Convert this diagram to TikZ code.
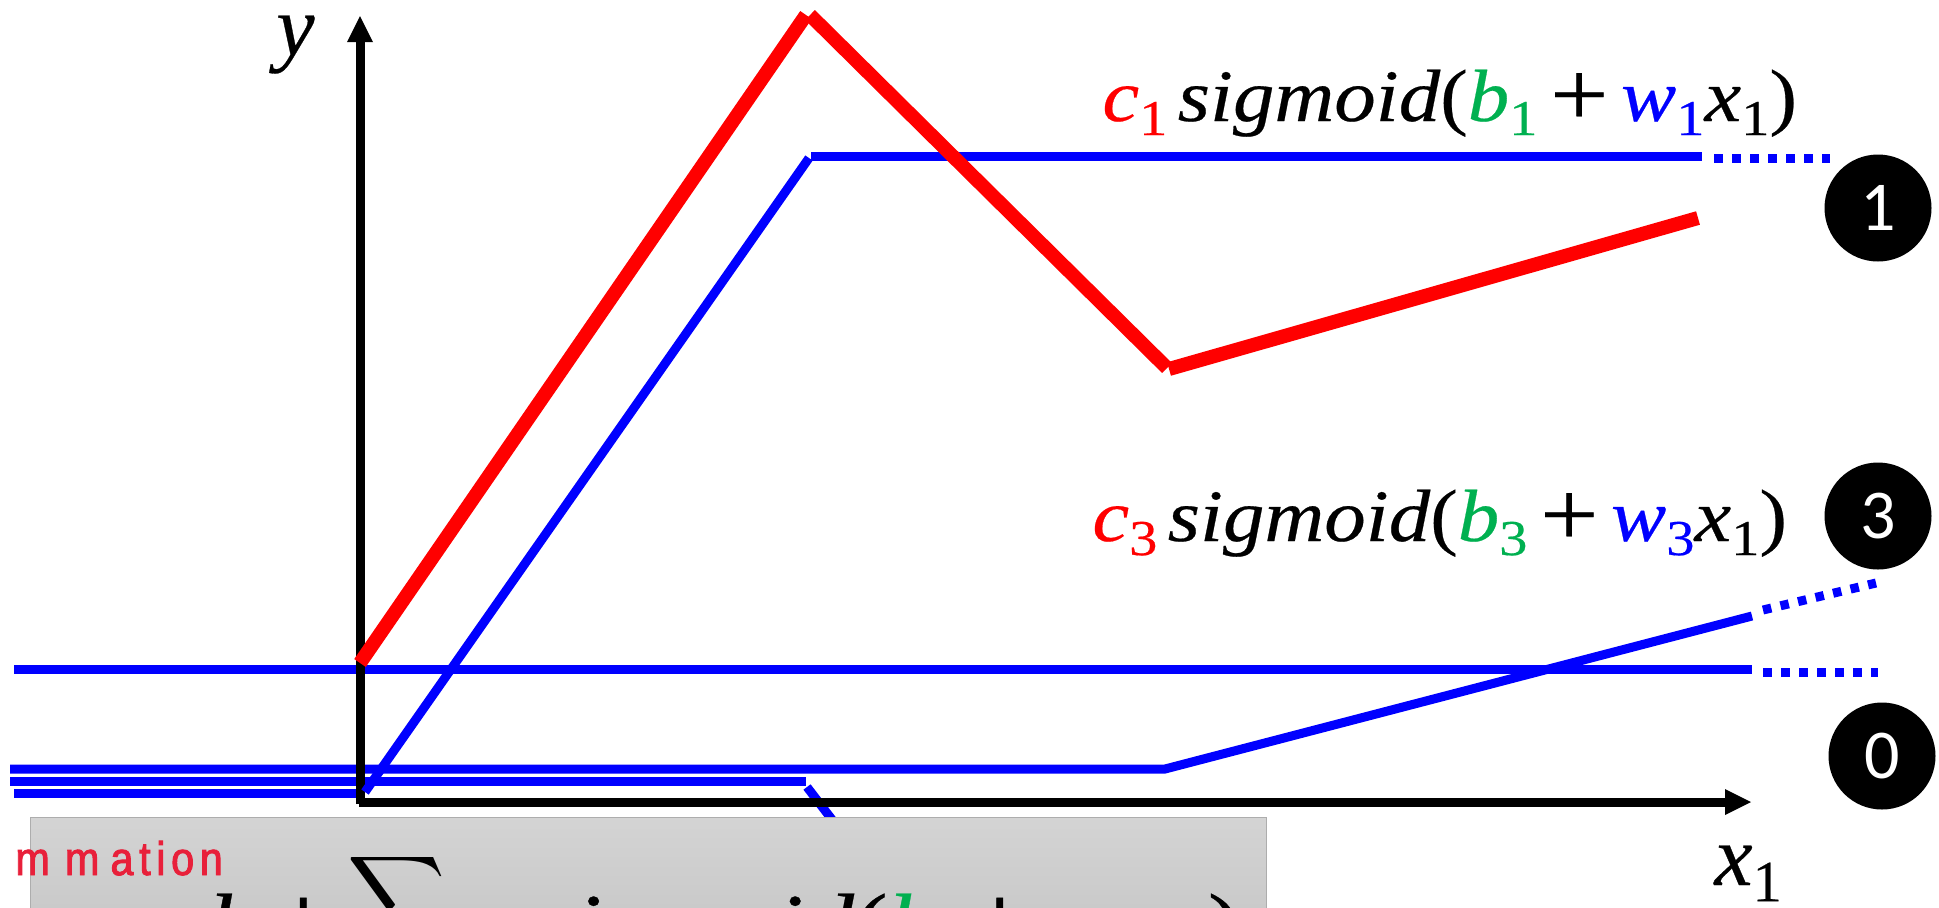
\documentclass[tikz,border=0pt]{standalone}
\usepackage{fontspec}
\newfontfamily\numfont{Carlito}
\newfontfamily\redfont[FakeStretch=0.88,LetterSpace=12,FakeBold=2]{Liberation Sans}
\newfontfamily\cam[FakeStretch=1.12,FakeBold=0.35]{Liberation Serif}
\newfontfamily\camx[FakeStretch=1.0,FakeBold=0.35]{Liberation Serif}
\definecolor{cblue}{RGB}{0,0,255}
\definecolor{cred}{RGB}{255,0,0}
\definecolor{cgreen}{RGB}{0,176,80}
\definecolor{labred}{RGB}{232,32,58}
\newcommand\csub[1]{\raisebox{-0.19em}{\scalebox{0.68}{\upshape #1}}}
\newcommand\cplus{\raisebox{-0.06em}{\scalebox{1.25}{\upshape+}}}
\newcommand\eqn[3]{{\cam\itshape\textcolor{cred}{c\csub{#1}}\hspace{0.14em}sigmoid{\upshape(}\textcolor{cgreen}{b\csub{#1}}\hspace{0.17em}\cplus\hspace{0.17em}\textcolor{#3}{w\csub{#1}}x\csub{#2}{\upshape)}}}
\tikzset{
  axisline/.style={draw=black,line width=4.5pt},
  blueline/.style={draw=cblue,line width=4.5pt},
  bluedot/.style={draw=cblue,line width=4.5pt,dash pattern=on 4.25pt off 4.75pt},
  redline/.style={draw=cred,line width=7pt},
  badge/.style={circle,fill=black,text=white,minimum size=53.5pt,inner sep=0pt,font=\numfont\fontsize{35}{35}\selectfont},
  mathlabel/.style={inner sep=0pt,anchor=base west,font=\fontsize{37}{44}\selectfont},
  axislabel/.style={inner sep=0pt,anchor=base west,font=\fontsize{43}{50}\selectfont},
  sumlabel/.style={inner sep=0pt,anchor=base west,font=\fontsize{45}{54}\selectfont},
  sumbox/.style={rectangle,draw=black!32,line width=0.7pt,top color=black!17,bottom color=black!22,minimum width=618pt,minimum height=60pt,anchor=north west,inner sep=0pt},
  tip/.style={fill=black,draw=none},
}
\begin{document}
\begin{tikzpicture}[x=0.5pt,y=-0.5pt]
\useasboundingbox (0,0) rectangle (1939,907);
\begin{scope}
\clip (0,0) rectangle (1939,907);
% horizontal blue lines, under the axes
\draw[blueline] (14,669) -- (1752,669);
\draw[bluedot] (1763,672) -- (1878,672);
\draw[blueline] (10,769) -- (1165,769) -- (1752,616);
\draw[bluedot] (1763,610) -- (1876,583);
\draw[blueline] (10,781) -- (806,781);
\draw[blueline] (14,793) -- (358,793);
\draw[blueline] (811,156) -- (1702,156);
\draw[bluedot] (1714,158) -- (1830,158);
\draw[blueline] (807,787) -- (840,830);
% axes
\coordinate (o) at (360,802);
\coordinate (ytop) at (360,16);
\coordinate (xtip) at (1751,802);
\draw[axisline] (360,804) -- (360,40);
\draw[axisline] (359,802.5) -- (1727,802.5);
\fill[tip] (ytop) -- (373,42) -- (347,42) -- cycle;
\fill[tip] (xtip) -- (1725,789) -- (1725,815) -- cycle;
% rising blue segment, over the axes
\draw[blueline] (365,792) -- (809,158);
% red
\draw[redline] (360,663) -- (806,15);
\draw[redline] (810,15) -- (1167,368);
\draw[redline] (1169,369) -- (1698,218);
% box
\node[sumbox] (box) at (30,817) {};
\node[inner sep=0pt,anchor=base west,text=labred,font=\redfont\fontsize{23.5}{24}\selectfont] (lab) at (15,875) {m\kern-1pt{} m \kern-3pt{}ation};
\node[sumlabel] (sb) at (208,956) {\cam\itshape b\hspace{0.1em}\cplus};
\node[inner sep=0pt,anchor=north west] (sig) at (347,850) {\scalebox{3.4}{$\displaystyle\sum$}};
\node[sumlabel] (sf) at (458,956) {\cam\itshape c\csub{i}\hspace{0.14em}sigmoid{\upshape(}\textcolor{cgreen}{b\csub{i}}\hspace{0.08em}\cplus\hspace{0.08em}w\csub{i}x\csub{1}{\upshape)}};
\end{scope}
% badges
\node[badge] (b1) at (1878,208) {1};
\node[badge] (b3) at (1878,516) {3};
\node[badge] (b0) at (1882,756) {0};
% labels
\node[mathlabel] (f1) at (1102,121) {\eqn{1}{1}{cblue}};
\node[mathlabel] (f3) at (1092,541) {\eqn{3}{1}{cblue}};
\node[axislabel] (ly) at (276,55) {\camx\itshape y};
\node[axislabel] (lx) at (1714,885) {\camx\itshape x\csub{1}};
\end{tikzpicture}
\end{document}
